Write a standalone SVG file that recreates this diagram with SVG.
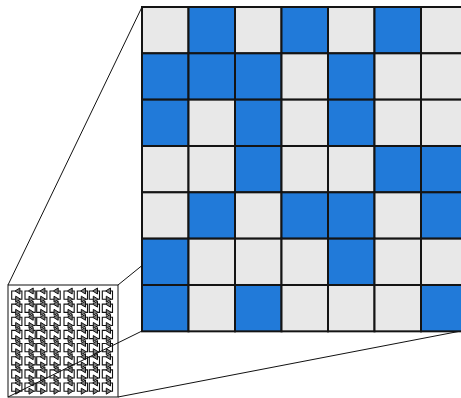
<svg xmlns="http://www.w3.org/2000/svg" xmlns:xlink="http://www.w3.org/1999/xlink" width="461" height="398" viewBox="0 0 461 398">
<style>
.b{fill:#217ad9;stroke:#141414;stroke-width:2}
.g{fill:#e8e8e8;stroke:#141414;stroke-width:2}
.ln{stroke:#111;stroke-width:1;fill:none}
.w{fill:none;stroke:#111;stroke-width:1.1}
.t{fill:#7a7a7a;stroke:#111;stroke-width:1;stroke-linejoin:round}
</style>
<defs>
<g id="u">
<path class="w" d="M3.5,0H0V8.2H4M8.2,0H10.2V8.2H8.7"/>
<polygon class="t" points="3.3,0 8.2,-3 8.2,3"/>
<polygon class="t" points="8.9,8.2 4,5.2 4,11.2"/>
</g>
</defs>
<rect width="461" height="398" fill="#fff"/>
<g id="small-array">
<rect x="8" y="285" width="110" height="112" fill="#fff" stroke="#111" stroke-width="1"/>
<g id="r0" transform="translate(0,291)"><use xlink:href="#u" x="11.7"/><use xlink:href="#u" x="25"/><use xlink:href="#u" x="36.7"/><use xlink:href="#u" x="50"/><use xlink:href="#u" x="64"/><use xlink:href="#u" x="77.3"/><use xlink:href="#u" x="89.3"/><use xlink:href="#u" x="102.3"/></g>
<use xlink:href="#r0" y="13.14"/>
<use xlink:href="#r0" y="26.28"/>
<use xlink:href="#r0" y="39.42"/>
<use xlink:href="#r0" y="52.56"/>
<use xlink:href="#r0" y="65.7"/>
<use xlink:href="#r0" y="78.84"/>
<use xlink:href="#r0" y="91.98"/>
</g>
<g id="connectors">
<line class="ln" x1="8" y1="285" x2="142" y2="7"/>
<line class="ln" x1="118" y1="285" x2="461" y2="7"/>
<line class="ln" x1="8" y1="397" x2="142" y2="331"/>
<line class="ln" x1="118" y1="397" x2="461" y2="331"/>
</g>
<g id="grid">
<rect class="g" x="142" y="7" width="46.5" height="46.33"/>
<rect class="b" x="188.5" y="7" width="46.5" height="46.33"/>
<rect class="g" x="235" y="7" width="46.5" height="46.33"/>
<rect class="b" x="281.5" y="7" width="46.5" height="46.33"/>
<rect class="g" x="328" y="7" width="46.5" height="46.33"/>
<rect class="b" x="374.5" y="7" width="46.5" height="46.33"/>
<rect class="g" x="421" y="7" width="46.5" height="46.33"/>

<rect class="b" x="142" y="53.33" width="46.5" height="46.33"/>
<rect class="b" x="188.5" y="53.33" width="46.5" height="46.33"/>
<rect class="b" x="235" y="53.33" width="46.5" height="46.33"/>
<rect class="g" x="281.5" y="53.33" width="46.5" height="46.33"/>
<rect class="b" x="328" y="53.33" width="46.5" height="46.33"/>
<rect class="g" x="374.5" y="53.33" width="46.5" height="46.33"/>
<rect class="g" x="421" y="53.33" width="46.5" height="46.33"/>

<rect class="b" x="142" y="99.66" width="46.5" height="46.33"/>
<rect class="g" x="188.5" y="99.66" width="46.5" height="46.33"/>
<rect class="b" x="235" y="99.66" width="46.5" height="46.33"/>
<rect class="g" x="281.5" y="99.66" width="46.5" height="46.33"/>
<rect class="b" x="328" y="99.66" width="46.5" height="46.33"/>
<rect class="g" x="374.5" y="99.66" width="46.5" height="46.33"/>
<rect class="g" x="421" y="99.66" width="46.5" height="46.33"/>

<rect class="g" x="142" y="146" width="46.5" height="46.33"/>
<rect class="g" x="188.5" y="146" width="46.5" height="46.33"/>
<rect class="b" x="235" y="146" width="46.5" height="46.33"/>
<rect class="g" x="281.5" y="146" width="46.5" height="46.33"/>
<rect class="g" x="328" y="146" width="46.5" height="46.33"/>
<rect class="b" x="374.5" y="146" width="46.5" height="46.33"/>
<rect class="b" x="421" y="146" width="46.5" height="46.33"/>

<rect class="g" x="142" y="192.33" width="46.5" height="46.33"/>
<rect class="b" x="188.5" y="192.33" width="46.5" height="46.33"/>
<rect class="g" x="235" y="192.33" width="46.5" height="46.33"/>
<rect class="b" x="281.5" y="192.33" width="46.5" height="46.33"/>
<rect class="b" x="328" y="192.33" width="46.5" height="46.33"/>
<rect class="g" x="374.5" y="192.33" width="46.5" height="46.33"/>
<rect class="b" x="421" y="192.33" width="46.5" height="46.33"/>

<rect class="b" x="142" y="238.66" width="46.5" height="46.33"/>
<rect class="g" x="188.5" y="238.66" width="46.5" height="46.33"/>
<rect class="g" x="235" y="238.66" width="46.5" height="46.33"/>
<rect class="g" x="281.5" y="238.66" width="46.5" height="46.33"/>
<rect class="b" x="328" y="238.66" width="46.5" height="46.33"/>
<rect class="g" x="374.5" y="238.66" width="46.5" height="46.33"/>
<rect class="g" x="421" y="238.66" width="46.5" height="46.33"/>

<rect class="b" x="142" y="285" width="46.5" height="46.33"/>
<rect class="g" x="188.5" y="285" width="46.5" height="46.33"/>
<rect class="b" x="235" y="285" width="46.5" height="46.33"/>
<rect class="g" x="281.5" y="285" width="46.5" height="46.33"/>
<rect class="g" x="328" y="285" width="46.5" height="46.33"/>
<rect class="g" x="374.5" y="285" width="46.5" height="46.33"/>
<rect class="b" x="421" y="285" width="46.5" height="46.33"/>
</g>
</svg>
